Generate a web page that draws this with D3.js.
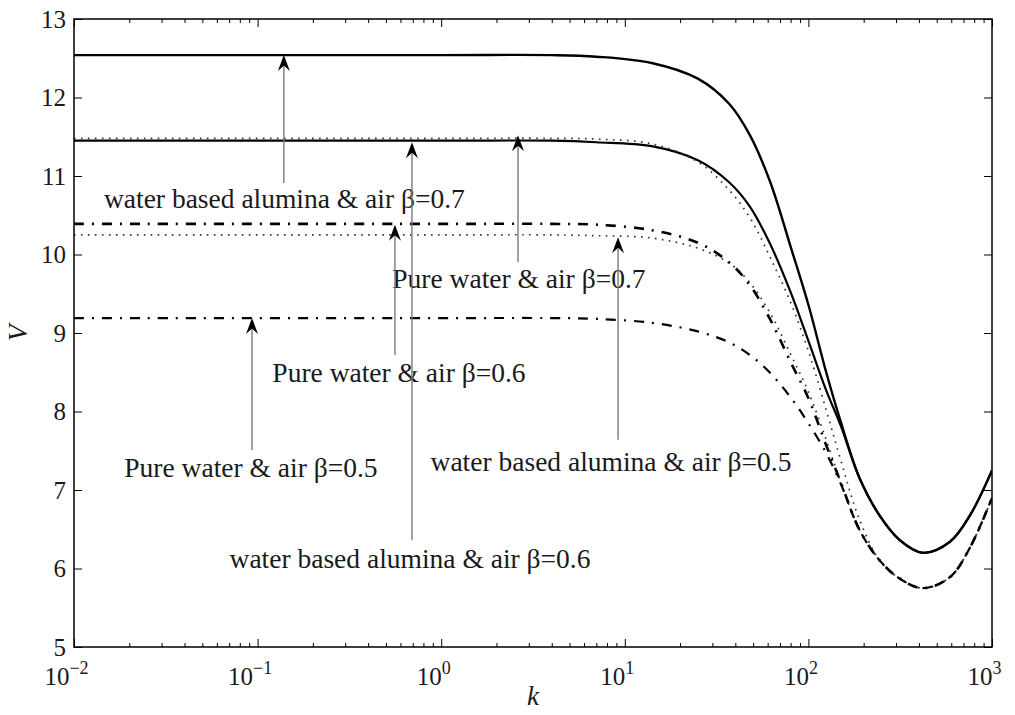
<!DOCTYPE html>
<html>
<head>
<meta charset="utf-8">
<script src="https://cdn.jsdelivr.net/npm/d3@7"></script>
<style>
  html, body { margin: 0; padding: 0; background: #fff; }
  svg { display: block; }
  text { font-family: "Liberation Serif", "Times New Roman", serif; fill: #1a1a1a; }
</style>
</head>
<body>
<svg id="chart" width="1015" height="715"></svg>
<script>
// Wave number grid shared by every curve
const kGrid = [0.01, 1, 4, 7, 14, 25, 37, 48, 62, 80, 100, 125, 150, 190, 245, 315, 420, 590, 760, 1000];

// V(k) for each fluid pair / beta
const vAlumina07 = [12.54, 12.54, 12.54, 12.52, 12.44, 12.24, 11.92, 11.52, 10.92, 10.10, 9.36, 8.50, 7.87, 7.15, 6.67, 6.36, 6.20, 6.34, 6.68, 7.25];
const vAlumina06 = [11.45, 11.45, 11.45, 11.43, 11.38, 11.20, 10.92, 10.61, 10.13, 9.52, 8.90, 8.27, 7.82, 7.15, 6.67, 6.36, 6.20, 6.34, 6.68, 7.25];
const vAlumina05 = [10.39, 10.39, 10.39, 10.38, 10.31, 10.15, 9.90, 9.61, 9.17, 8.63, 8.17, 7.57, 7.10, 6.49, 6.10, 5.87, 5.75, 5.89, 6.27, 6.90];
const vWater07   = [11.48, 11.48, 11.48, 11.47, 11.41, 11.18, 10.82, 10.47, 9.96, 9.39, 8.77, 8.02, 7.38, 6.62, 6.10, 5.87, 5.75, 5.89, 6.27, 6.90];
const vWater06   = [10.25, 10.25, 10.25, 10.24, 10.21, 10.08, 9.89, 9.64, 9.25, 8.73, 8.25, 7.64, 7.10, 6.49, 6.10, 5.87, 5.75, 5.89, 6.27, 6.90];
const vWater05   = [9.19, 9.19, 9.19, 9.18, 9.13, 9.02, 8.88, 8.72, 8.49, 8.18, 7.85, 7.47, 7.08, 6.49, 6.10, 5.87, 5.75, 5.89, 6.27, 6.90];

// Axis ticks
const xTicks = [1e-2, 1e-1, 1e0, 1e1, 1e2, 1e3];
const xTickExp = ["\u22122", "\u22121", "0", "1", "2", "3"];
const yTicks = [5, 6, 7, 8, 9, 10, 11, 12, 13];

// Annotation labels, arrow positions (k, V tail -> V tip) and label anchors (k, V baseline)
const labelText = [
  "water based alumina & air \u03b2=0.7",
  "Pure water & air \u03b2=0.7",
  "Pure water & air \u03b2=0.6",
  "water based alumina & air \u03b2=0.5",
  "Pure water & air \u03b2=0.5",
  "water based alumina & air \u03b2=0.6"
];
const arrowK    = [0.139, 2.62, 0.56, 9.19, 0.0932, 0.693];
const arrowTail = [10.91, 9.90, 8.72, 7.64, 7.51, 6.36];
const arrowTip  = [12.54, 11.52, 10.38, 10.22, 9.19, 11.43];
const labelK    = [0.140, 2.65, 0.589, 8.41, 0.092, 0.676];
const labelV    = [10.59, 9.57, 8.38, 7.24, 7.17, 6.01];

const margin = { left: 74, right: 23, top: 19, bottom: 68 };
const W = 1015, H = 715;
const svg = d3.select("#chart");

const x = d3.scaleLog().domain([1e-2, 1e3]).range([margin.left, W - margin.right]);
const y = d3.scaleLinear().domain([5, 13]).range([H - margin.bottom, margin.top]);

const series = [
  { v: vAlumina07, width: 2.4, dash: null, color: "#000" },
  { v: vAlumina06, width: 2.2, dash: null, color: "#000" },
  { v: vWater07,   width: 1.7, dash: "1.6,5.4", color: "#333" },
  { v: vWater06,   width: 1.7, dash: "1.6,5.4", color: "#333" },
  { v: vAlumina05, width: 2.6, dash: "10,8,2,8", color: "#000" },
  { v: vWater05,   width: 2.2, dash: "10,8,2,8", color: "#000" }
];

const line = d3.line()
  .x(d => x(d[0]))
  .y(d => y(d[1]))
  .curve(d3.curveCatmullRom.alpha(0.5));

svg.append("clipPath").attr("id", "plotClip").append("rect")
  .attr("x", margin.left).attr("y", margin.top)
  .attr("width", W - margin.left - margin.right)
  .attr("height", H - margin.top - margin.bottom);

const plot = svg.append("g").attr("clip-path", "url(#plotClip)");
series.forEach(s => {
  plot.append("path")
    .datum(kGrid.map((k, i) => [k, s.v[i]]))
    .attr("d", line)
    .attr("fill", "none")
    .attr("stroke", s.color)
    .attr("stroke-width", s.width)
    .attr("stroke-dasharray", s.dash)
    .attr("stroke-linejoin", "round");
});

// Minor tick positions on the log axis
const minorTicks = [];
for (let e = -2; e < 3; e++) for (let m = 2; m <= 9; m++) minorTicks.push(m * Math.pow(10, e));

const axesG = svg.append("g");
const styleAxis = g => {
  g.select(".domain").remove();
  g.selectAll(".tick line").attr("stroke", "#000").attr("stroke-width", 1);
};

// bottom
axesG.append("g").attr("transform", `translate(0,${y(5)})`)
  .call(d3.axisBottom(x).tickValues(minorTicks).tickSize(-4).tickFormat(""))
  .call(styleAxis).selectAll("text").remove();
const xb = axesG.append("g").attr("transform", `translate(0,${y(5)})`)
  .call(d3.axisBottom(x).tickValues(xTicks).tickSizeInner(-8).tickSizeOuter(0).tickPadding(14).tickFormat(""))
  .call(styleAxis);
xb.selectAll(".tick text").each(function(d, i) {
  const t = d3.select(this).attr("font-size", 25).attr("dy", "0.95em").attr("text-anchor", "middle").attr("dx", -8);
  t.append("tspan").text("10");
  t.append("tspan").attr("dy", -11).attr("font-size", 18).text(xTickExp[i]);
});
// top
axesG.append("g").attr("transform", `translate(0,${y(13)})`)
  .call(d3.axisTop(x).tickValues(minorTicks).tickSize(-4).tickFormat(""))
  .call(styleAxis);
axesG.append("g").attr("transform", `translate(0,${y(13)})`)
  .call(d3.axisTop(x).tickValues(xTicks).tickSize(-8).tickFormat(""))
  .call(styleAxis);
// left
const yl = axesG.append("g").attr("transform", `translate(${x(1e-2)},0)`)
  .call(d3.axisLeft(y).tickValues(yTicks).tickSizeInner(-8).tickSizeOuter(0).tickPadding(8))
  .call(styleAxis);
yl.selectAll(".tick text").attr("font-size", 25).attr("x", -8);
// right
axesG.append("g").attr("transform", `translate(${x(1e3)},0)`)
  .call(d3.axisRight(y).tickValues(yTicks).tickSize(-8).tickFormat(""))
  .call(styleAxis);

// frame
svg.append("rect")
  .attr("x", x(1e-2)).attr("y", y(13))
  .attr("width", x(1e3) - x(1e-2)).attr("height", y(5) - y(13))
  .attr("fill", "none").attr("stroke", "#000").attr("stroke-width", 1.5);

// axis titles
svg.append("text").attr("x", x(Math.sqrt(10))).attr("y", 705)
  .attr("text-anchor", "middle").attr("font-size", 27).attr("font-style", "italic").text("k");
svg.append("text")
  .attr("transform", `translate(27,${y(9)}) rotate(-90)`)
  .attr("text-anchor", "middle").attr("font-size", 27).attr("font-style", "italic").text("V");

// annotation arrows
const ann = svg.append("g");
labelText.forEach((txt, i) => {
  const ax = x(arrowK[i]);
  const y0 = y(arrowTail[i]);
  const y1 = y(arrowTip[i]);
  ann.append("line")
    .attr("x1", ax).attr("x2", ax).attr("y1", y0).attr("y2", y1 + 8)
    .attr("stroke", "#7a7a7a").attr("stroke-width", 1.4);
  ann.append("path")
    .attr("d", `M${ax},${y1} L${ax - 6},${y1 + 16} L${ax},${y1 + 10.5} L${ax + 6},${y1 + 16} Z`)
    .attr("fill", "#000");
  ann.append("text")
    .attr("x", x(labelK[i])).attr("y", y(labelV[i]))
    .attr("text-anchor", "middle").attr("font-size", 27.5)
    .text(txt);
});
</script>
</body>
</html>
